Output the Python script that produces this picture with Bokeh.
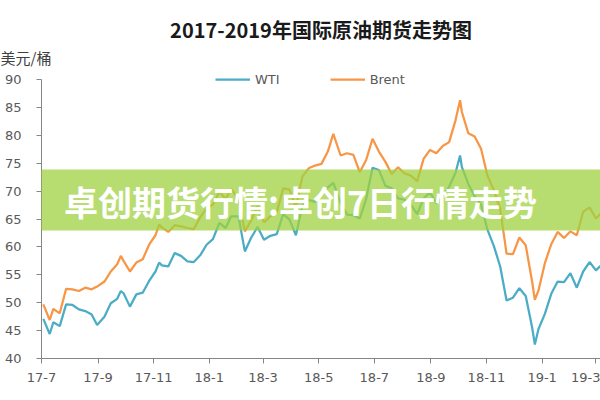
from datetime import datetime
from bokeh.plotting import figure
from bokeh.models import (ColumnDataSource, FixedTicker, Range1d, Legend, LegendItem,
                          BoxAnnotation, Label, Title)
from bokeh.embed import file_html
from bokeh.resources import INLINE

# ---------------- data ----------------
dates = [
    "2017-07-03", "2017-07-10", "2017-07-14", "2017-07-21", "2017-07-28", "2017-08-04",
    "2017-08-11", "2017-08-18", "2017-08-25", "2017-08-31", "2017-09-08", "2017-09-15",
    "2017-09-22", "2017-09-26", "2017-09-29", "2017-10-06", "2017-10-13", "2017-10-20",
    "2017-10-27", "2017-11-03", "2017-11-07", "2017-11-10", "2017-11-17", "2017-11-24",
    "2017-12-01", "2017-12-08", "2017-12-15", "2017-12-22", "2017-12-29", "2018-01-05",
    "2018-01-12", "2018-01-19", "2018-01-25", "2018-02-02", "2018-02-09", "2018-02-16",
    "2018-02-23", "2018-03-02", "2018-03-09", "2018-03-16", "2018-03-23", "2018-03-30",
    "2018-04-06", "2018-04-13", "2018-04-20", "2018-04-27", "2018-05-04", "2018-05-11",
    "2018-05-17", "2018-05-25", "2018-06-01", "2018-06-08", "2018-06-15", "2018-06-22",
    "2018-06-29", "2018-07-06", "2018-07-13", "2018-07-20", "2018-07-27", "2018-08-03",
    "2018-08-10", "2018-08-17", "2018-08-24", "2018-08-31", "2018-09-07", "2018-09-14",
    "2018-09-21", "2018-09-28", "2018-10-03", "2018-10-05", "2018-10-12", "2018-10-19",
    "2018-10-26", "2018-11-02", "2018-11-09", "2018-11-16", "2018-11-23", "2018-11-30",
    "2018-12-07", "2018-12-14", "2018-12-21", "2018-12-24", "2018-12-28", "2019-01-04",
    "2019-01-11", "2019-01-18", "2019-01-25", "2019-02-01", "2019-02-08", "2019-02-15",
    "2019-02-22", "2019-03-01", "2019-03-06",
]
wti = [
    47.1, 44.4, 46.5, 45.8, 49.7, 49.6,
    48.8, 48.5, 47.9, 46.0, 47.5, 49.9,
    50.7, 52.1, 51.7, 49.3, 51.5, 51.8,
    53.9, 55.6, 57.2, 56.7, 56.5, 58.9,
    58.4, 57.4, 57.3, 58.5, 60.4, 61.4,
    64.3, 63.4, 65.5, 65.5, 59.2, 61.7,
    63.6, 61.3, 62.0, 62.3, 65.9, 64.9,
    62.1, 67.4, 68.4, 68.1, 69.7, 70.7,
    71.5, 67.9, 65.8, 65.7, 65.1, 68.6,
    74.2, 73.8, 71.0, 70.5, 68.7, 68.5,
    67.6, 65.9, 68.7, 69.8, 67.8, 69.0,
    70.8, 73.3, 76.4, 74.3, 71.3, 69.1,
    67.6, 63.1, 60.2, 56.5, 50.4, 50.9,
    52.6, 51.2, 45.6, 42.5, 45.3, 48.0,
    51.6, 53.8, 53.7, 55.3, 52.7, 55.6,
    57.3, 55.8, 56.6,
]
brent = [
    49.7, 46.9, 48.9, 48.1, 52.5, 52.4,
    52.1, 52.7, 52.4, 52.9, 53.8, 55.6,
    56.9, 58.4, 57.5, 55.6, 57.2, 57.8,
    60.4, 62.1, 64.0, 63.5, 62.7, 63.9,
    63.7, 63.4, 63.2, 65.3, 66.9, 67.6,
    69.9, 68.6, 70.4, 68.6, 62.8, 64.8,
    67.3, 64.4, 65.5, 66.2, 70.5, 70.3,
    67.1, 72.6, 74.1, 74.6, 74.9, 77.1,
    80.3, 76.4, 76.8, 76.5, 73.4, 75.6,
    79.4, 77.1, 75.3, 73.1, 74.3, 73.2,
    72.8, 71.8, 75.8, 77.4, 76.8, 78.1,
    78.8, 82.7, 86.3, 84.2, 80.4, 79.8,
    77.6, 72.8, 70.2, 66.8, 58.8, 58.7,
    61.7, 60.3, 53.8, 50.5, 52.2, 57.1,
    60.5, 62.7, 61.6, 62.8, 62.1, 66.3,
    67.1, 65.1, 65.9,
]
tick_months = ["2017-07-01", "2017-09-01", "2017-11-01", "2018-01-01", "2018-03-01",
               "2018-05-01", "2018-07-01", "2018-09-01", "2018-11-01", "2019-01-01",
               "2019-03-01"]
tick_labels = ["17-7", "17-9", "17-11", "18-1", "18-3", "18-5", "18-7", "18-9", "18-11",
               "19-1", "19-3"]
y_ticks = [40, 45, 50, 55, 60, 65, 70, 75, 80, 85, 90]
series_names = ["WTI", "Brent"]
title_text = "2017-2019年国际原油期货走势图"
unit_text = "美元/桶"
banner_text = "卓创期货行情:卓创7日行情走势"

# ---------------- helpers ----------------
EPOCH = datetime(1970, 1, 1)


def ms(s):
    return (datetime.strptime(s, "%Y-%m-%d") - EPOCH).total_seconds() * 1000.0


src = ColumnDataSource(dict(date=[datetime.strptime(d, "%Y-%m-%d") for d in dates],
                            wti=wti, brent=brent))

W, H = 600, 400
p = figure(width=W, height=H, output_backend="svg", toolbar_location=None,
           x_axis_type="datetime",
           x_range=Range1d(ms("2017-07-01"), ms("2019-03-06")),
           y_range=Range1d(40, 92),
           min_border_left=41, min_border_right=0, min_border_top=68, min_border_bottom=42)
p.background_fill_color = "white"
p.border_fill_color = "white"
p.outline_line_color = None
p.xgrid.visible = False
p.ygrid.visible = False

r_wti = p.line("date", "wti", source=src, line_color="#4bacc6", line_width=2.25)
r_brent = p.line("date", "brent", source=src, line_color="#f79646", line_width=2.25)

tick_ms = [ms(d) for d in tick_months]
xa = p.xaxis[0]
xa.ticker = FixedTicker(ticks=tick_ms)
xa.major_label_overrides = {t: lab for t, lab in zip(tick_ms, tick_labels)}
ya = p.yaxis[0]
ya.ticker = FixedTicker(ticks=y_ticks)
ya.bounds = (40, 90)
for ax in (xa, ya):
    ax.axis_line_color = "#868686"
    ax.major_tick_line_color = "#868686"
    ax.minor_tick_line_color = None
    ax.major_tick_in = 0
    ax.major_tick_out = 5
    ax.major_label_text_font = "DejaVu Sans"
    ax.major_label_text_font_size = "13px"
    ax.major_label_text_color = "#595959"
xa.major_label_standoff = 9
ya.major_label_standoff = 15

legend = Legend(items=[LegendItem(label=series_names[0], renderers=[r_wti]),
                       LegendItem(label=series_names[1], renderers=[r_brent])],
                orientation="horizontal", location=(173, 268))
legend.margin = 0
legend.padding = 1
legend.spacing = 50
legend.glyph_width = 35
legend.label_standoff = 5
legend.border_line_alpha = 0
legend.background_fill_alpha = 0
legend.label_text_font = "DejaVu Sans"
legend.label_text_font_size = "13px"
legend.label_text_color = "#595959"
p.add_layout(legend)

# unit label (nearest the frame), then the main title above it
p.add_layout(Title(text=unit_text, align="left", offset=-41, standoff=2,
                   text_line_height=0.7,
                   text_font="Noto Sans CJK SC", text_font_size="15px",
                   text_font_style="normal", text_color="#404040"), "above")
p.add_layout(Title(text=title_text, align="center", offset=3, standoff=0,
                   text_font="Noto Sans CJK SC", text_font_size="20px",
                   text_font_style="bold", text_color="#1a1a1a"), "above")

p.add_layout(BoxAnnotation(left=0, right=W, top=169, bottom=230,
                           left_units="canvas", right_units="canvas",
                           top_units="canvas", bottom_units="canvas",
                           fill_color="#9fd240", fill_alpha=0.75, line_alpha=0))
p.add_layout(Label(x=300, y=201, x_units="canvas", y_units="canvas", text=banner_text,
                   text_font="Noto Sans CJK SC", text_font_size="34px",
                   text_font_style="bold", text_color="white",
                   text_align="center", text_baseline="middle"))

open("out.html", "w").write(file_html(p, INLINE))
